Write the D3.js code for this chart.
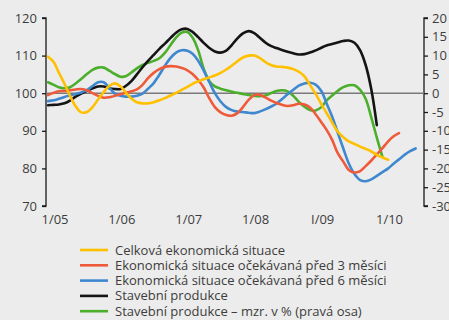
<!DOCTYPE html>
<html>
<head>
<meta charset="utf-8">
<script src="https://cdn.jsdelivr.net/npm/d3@7"></script>
<style>
  html, body { margin: 0; padding: 0; background: #ececec; }
  svg { display: block; }
  text { font-family: "Open Sans", "Noto Sans", sans-serif; fill: #3c3c3c; }
</style>
</head>
<body>
<svg id="chart" width="449" height="320"></svg>
<script>
// Monthly observations, January 2005 onwards (index 0 = 1/2005)
const tickLabels = ["1/05", "1/06", "1/07", "1/08", "I/09", "1/10"];

// Celková ekonomická situace (left axis, index)
const celkova = [
  109.7, 108.3, 105.5, 102.5, 99.3, 96.5, 94.9, 95.0, 96.3, 98.3, 100.3, 101.9,
  102.6, 101.8, 100.2, 98.6, 97.6, 97.3, 97.3, 97.6, 98.1, 98.7, 99.4, 100.1,
  100.9, 101.7, 102.5, 103.1, 103.7, 104.2, 104.7, 105.4, 106.3, 107.3, 108.5, 109.5,
  110.0, 110.0, 109.4, 108.3, 107.5, 107.1, 107.0, 106.8, 106.4, 105.7, 104.5, 102.2,
  99.8, 97.1, 94.8, 92.2, 89.8, 88.3, 87.2, 86.5, 85.8, 85.2, 84.5, 83.6,
  82.9, 82.3
];

// Ekonomická situace očekávaná před 3 měsíci (left axis)
const pred3 = [
  99.5, 100.1, 100.5, 100.6, 100.8, 101.0, 101.1, 100.8, 100.0, 99.3, 98.8, 98.9,
  99.3, 99.7, 100.1, 100.5, 101.0, 102.2, 104.0, 105.4, 106.4, 107.0, 107.2, 107.1,
  106.7, 106.1, 105.1, 103.5, 101.5, 98.6, 96.3, 94.9, 94.2, 94.0, 94.7, 96.3,
  98.2, 99.5, 99.6, 98.9, 98.1, 97.4, 96.9, 96.6, 96.8, 97.2, 97.0, 96.2,
  94.4, 92.3, 90.3, 87.6, 84.1, 81.8, 79.6, 78.9, 79.3, 80.6, 82.1, 83.7,
  85.4, 87.2, 88.5, 89.4
];

// Ekonomická situace očekávaná před 6 měsíci (left axis)
const pred6 = [
  97.9, 98.1, 98.5, 99.0, 99.4, 99.8, 100.2, 100.8, 101.9, 102.9, 102.9, 101.5,
  99.9, 99.3, 99.1, 99.1, 99.3, 99.9, 101.2, 102.7, 104.9, 107.3, 109.4, 110.8,
  111.4, 111.3, 110.5, 108.6, 106.0, 102.9, 100.0, 97.8, 96.3, 95.5, 95.1, 95.0,
  94.8, 94.7, 95.1, 95.7, 96.4, 97.2, 98.4, 99.7, 100.9, 102.0, 102.6, 102.8,
  102.3, 100.6, 97.4, 93.8, 89.6, 85.3, 81.3, 78.5, 76.9, 76.6, 77.1, 78.0,
  79.0, 80.0, 81.2, 82.4, 83.6, 84.6, 85.3
];

// Stavební produkce (left axis, index)
const stavebni = [
  96.8, 96.9, 97.0, 97.3, 98.0, 99.1, 99.9, 100.6, 101.3, 101.8, 101.8, 101.3,
  101.1, 101.1, 101.9, 103.2, 105.0, 106.9, 108.6, 110.2, 111.8, 113.2, 114.7, 116.1,
  117.0, 117.1, 116.3, 114.9, 113.4, 112.0, 111.1, 110.8, 111.3, 112.8, 114.6, 115.9,
  116.5, 116.0, 114.8, 113.5, 112.6, 112.0, 111.5, 111.0, 110.6, 110.3, 110.4, 110.8,
  111.4, 112.1, 112.7, 113.1, 113.5, 113.9, 114.0, 113.4, 111.4, 107.5, 101.0, 91.5
];

// Stavební produkce – meziroční změna v % (right axis)
const stavebniMzr = [
  2.9, 2.2, 1.6, 1.3, 1.6, 2.6, 3.8, 5.1, 6.2, 6.8, 6.8, 6.0,
  5.1, 4.4, 4.5, 5.5, 6.6, 7.5, 8.1, 8.6, 9.3, 10.7, 12.8, 14.8,
  16.1, 16.3, 14.8, 11.4, 6.5, 3.2, 1.8, 1.2, 0.8, 0.4, 0.1, -0.2,
  -0.5, -0.7, -0.8, -0.6, 0.0, 0.6, 0.8, 0.5, -0.7, -2.3, -3.6, -4.5,
  -4.6, -3.7, -2.0, -0.6, 0.6, 1.6, 2.1, 2.1, 0.9, -1.5, -6.5, -11.8,
  -17.0
];

const seriesNames = [
  "Celková ekonomická situace",
  "Ekonomická situace očekávaná před 3 měsíci",
  "Ekonomická situace očekávaná před 6 měsíci",
  "Stavební produkce",
  "Stavební produkce – mzr. v % (pravá osa)"
];
const seriesColors = ["#ffc000", "#ef5a3a", "#3f88cf", "#141414", "#4caf2c"];

const svg = d3.select("#chart");
const start = new Date(2005, 0, 1);
const monthDate = i => d3.timeMonth.offset(start, i);

const x = d3.scaleTime()
  .domain([new Date(2005, 0, 1), new Date(2010, 0, 1)])
  .range([48, 382.5]);
const yLeft = d3.scaleLinear().domain([70, 120]).range([206, 18]);
const yRight = d3.scaleLinear().domain([-30, 20]).range([206, 18]);

// Left axis
const leftAxis = svg.append("g")
  .attr("transform", "translate(46,0)")
  .call(d3.axisLeft(yLeft).tickValues([70, 80, 90, 100, 110, 120]).tickSize(4).tickPadding(5));
// Right axis
const rightAxis = svg.append("g")
  .attr("transform", "translate(424,0)")
  .call(d3.axisRight(yRight).tickValues(d3.range(-30, 21, 5)).tickSize(4).tickPadding(4)
    .tickFormat(d => d < 0 ? "-" + Math.abs(d) : String(d)));
[leftAxis, rightAxis].forEach(g => {
  g.select(".domain").attr("stroke", "#1a1a1a").attr("stroke-width", 1.3);
  g.selectAll(".tick line").attr("stroke", "#1a1a1a").attr("stroke-width", 1.3);
  g.selectAll(".tick text").attr("font-size", 13).style("fill", "#3c3c3c");
});
leftAxis.select(".domain").attr("d", "M-4,206H0V18H-4");
rightAxis.select(".domain").attr("d", "M4,206H0V18H4");

// Category labels along the bottom
const bottomAxis = svg.append("g")
  .attr("transform", "translate(0,206)")
  .call(d3.axisBottom(x)
    .tickValues(tickLabels.map((_, i) => new Date(2005 + i, 0, 1)))
    .tickFormat((d, i) => tickLabels[i])
    .tickSize(0).tickPadding(6));
bottomAxis.select(".domain").remove();
bottomAxis.selectAll(".tick text")
  .attr("font-size", 13).attr("dx", 6.5).attr("dy", "0.95em").style("fill", "#3c3c3c");

// Reference line at 100 / 0 %
svg.append("line")
  .attr("x1", 46).attr("x2", 424)
  .attr("y1", yLeft(100)).attr("y2", yLeft(100))
  .attr("stroke", "#7a7a7a").attr("stroke-width", 1.6);

const seriesData = [
  { values: celkova, y: yLeft },
  { values: pred3, y: yLeft },
  { values: pred6, y: yLeft },
  { values: stavebni, y: yLeft },
  { values: stavebniMzr, y: yRight }
];

const plot = svg.append("g");
// draw order: green and black underneath, indexes on top
[4, 3, 2, 1, 0].forEach(k => {
  const s = seriesData[k];
  const line = d3.line()
    .x((d, i) => x(monthDate(i)))
    .y(d => s.y(d))
    .curve(d3.curveCatmullRom.alpha(0.5));
  plot.append("path")
    .datum(s.values)
    .attr("d", line)
    .attr("fill", "none")
    .attr("stroke", seriesColors[k])
    .attr("stroke-width", 2.6)
    .attr("stroke-linejoin", "round")
    .attr("stroke-linecap", "round");
});

// Legend
const legend = svg.append("g").attr("transform", "translate(80,250)");
seriesNames.forEach((name, i) => {
  const g = legend.append("g").attr("transform", `translate(0,${i * 15.3})`);
  g.append("line").attr("x1", 0).attr("x2", 28).attr("y1", 0).attr("y2", 0)
    .attr("stroke", seriesColors[i]).attr("stroke-width", 2.6);
  g.append("text").attr("x", 35).attr("y", 0).attr("dy", "0.35em")
    .attr("font-size", 13).text(name);
});
</script>
</body>
</html>
